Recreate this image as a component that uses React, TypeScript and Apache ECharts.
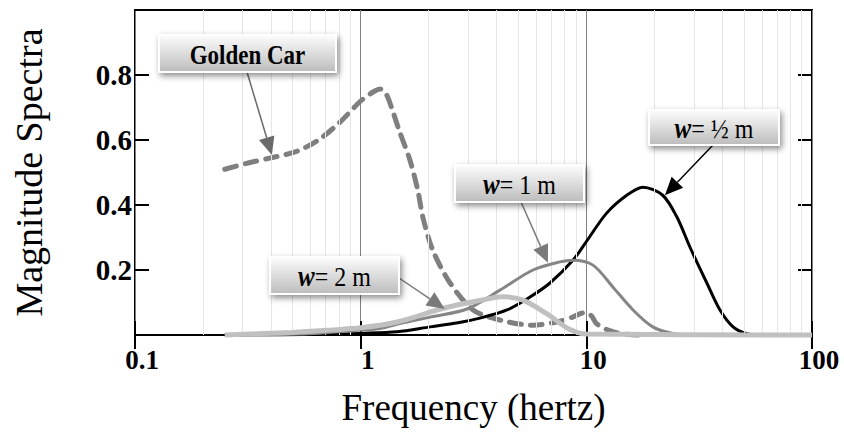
import React, { useEffect, useRef } from 'react';
import * as echarts from 'echarts';

// ---- data (frequency in hertz, magnitude spectra) ----
const goldenFreq = [0.25, 0.32, 0.4, 0.52, 0.65, 0.81, 1.0, 1.15, 1.22, 1.3, 1.37, 1.48, 1.65, 1.79, 1.89, 2.09, 2.49, 3.15, 4.14, 5.8, 7.4, 8.7, 9.7, 10.5, 11.1, 12.5, 14, 17];
const goldenVal = [0.51, 0.53, 0.545, 0.565, 0.6, 0.655, 0.72, 0.75, 0.757, 0.74, 0.7, 0.63, 0.54, 0.446, 0.36, 0.26, 0.16, 0.077, 0.046, 0.03, 0.04, 0.055, 0.068, 0.06, 0.035, 0.015, 0.005, 0];

const halfFreq = [0.25, 0.7, 1.0, 1.45, 2.03, 2.7, 3.38, 4.45, 5.63, 6.9, 8.72, 10.06, 12.3, 15.1, 17.8, 21.8, 25.2, 28.8, 34.2, 39.1, 44.7, 51, 60, 100];
const halfVal = [0, 0.002, 0.005, 0.01, 0.025, 0.038, 0.052, 0.077, 0.117, 0.16, 0.23, 0.29, 0.375, 0.43, 0.455, 0.43, 0.363, 0.27, 0.16, 0.077, 0.025, 0.005, 0, 0];

const oneFreq = [0.25, 0.54, 1.0, 1.22, 1.49, 2.03, 2.96, 4.14, 5.8, 7.64, 8.7, 10.7, 13.1, 16.1, 19.7, 24.2, 30, 100];
const oneVal = [0, 0.003, 0.015, 0.02, 0.035, 0.055, 0.08, 0.138, 0.2, 0.225, 0.23, 0.215, 0.148, 0.077, 0.025, 0.005, 0, 0];

const twoFreq = [0.25, 0.5, 0.73, 1.0, 1.45, 2.35, 3.48, 4.2, 5.2, 6.7, 8.3, 10, 100];
const twoVal = [0, 0.008, 0.015, 0.022, 0.04, 0.083, 0.108, 0.118, 0.108, 0.065, 0.02, 0.003, 0];

const minorGridFreq = [0.2, 0.3, 0.4, 0.5, 0.6, 0.7, 0.8, 0.9, 2, 3, 4, 5, 6, 7, 8, 9, 20, 30, 40, 50, 60, 70, 80, 90];

const annotationLabels = ['Golden Car', '{w|w}{r|= ½ m}', '{w|w}{r|= 1 m}', '{w|w}{r|= 2 m}'];
// arrow tips in data coordinates [frequency, magnitude]
const annotationTips = [[0.404, 0.554], [22.3, 0.43], [6.76, 0.222], [2.36, 0.08]];

const pairs = (f: number[], v: number[]) => f.map((x, i) => [x, v[i]]);

export default function App() {
  const ref = useRef<HTMLDivElement>(null);
  useEffect(() => {
    const chart = echarts.init(ref.current!, undefined, { renderer: 'svg' });
    const serif = '"Liberation Serif", "Times New Roman", serif';
    chart.setOption({
      animation: false,
      backgroundColor: '#ffffff',
      grid: { left: 135, right: 32, top: 10, bottom: 111, show: true, borderColor: '#000', borderWidth: 2, backgroundColor: 'transparent' },
      xAxis: [
        {
          type: 'log', logBase: 10, min: 0.1, max: 100, position: 'bottom',
          axisLine: { show: false },
          axisTick: { inside: true, length: 14, lineStyle: { color: '#000', width: 2 } },
          axisLabel: { color: '#000', fontSize: 27, fontWeight: 'bold', fontFamily: serif, margin: 11, padding: [0, 0, 0, 14] },
          splitLine: { show: true, lineStyle: { color: '#808080', width: 1 } },
          name: 'Frequency (hertz)', nameLocation: 'middle', nameGap: 54,
          nameTextStyle: { color: '#000', fontSize: 37, fontFamily: serif },
        },
        {
          type: 'log', logBase: 10, min: 0.1, max: 100, position: 'top',
          axisLine: { show: false },
          axisTick: { inside: true, length: 14, lineStyle: { color: '#000', width: 2 } },
          axisLabel: { show: false }, splitLine: { show: false },
        },
      ],
      yAxis: [
        {
          type: 'value', min: 0, max: 1, interval: 0.2, position: 'left',
          axisLine: { show: false },
          axisTick: { inside: true, length: 14, lineStyle: { color: '#000', width: 2 } },
          axisLabel: {
            color: '#000', fontSize: 29, fontWeight: 'bold', fontFamily: serif, margin: 3,
            formatter: (v: number) => (Math.abs(v) < 1e-9 || Math.abs(v - 1) < 1e-9 ? '' : v.toFixed(1)),
          },
          splitLine: { show: false },
          name: 'Magnitude Spectra', nameLocation: 'middle', nameGap: 87, nameRotate: 90,
          nameTextStyle: { color: '#000', fontSize: 38, fontFamily: serif },
        },
        {
          type: 'value', min: 0, max: 1, interval: 0.2, position: 'right',
          axisLine: { show: false },
          axisTick: { inside: true, length: 14, lineStyle: { color: '#000', width: 2 } },
          axisLabel: { show: false }, splitLine: { show: false },
        },
      ],
      series: [
        {
          type: 'line', data: [], z: 1, silent: true,
          markLine: {
            silent: true, symbol: 'none', label: { show: false },
            lineStyle: { color: '#e6e6e6', width: 1, type: 'solid' },
            data: minorGridFreq.map((f) => ({ xAxis: f })),
          },
        },
        {
          name: 'Golden Car', type: 'line', data: pairs(goldenFreq, goldenVal), showSymbol: false, smooth: 0.3, clip: false, z: 3,
          lineStyle: { color: '#7f7f7f', width: 5, type: [12, 9], cap: 'round' },
        },
        {
          name: 'w = 1/2 m', type: 'line', data: pairs(halfFreq, halfVal), showSymbol: false, smooth: 0.3, clip: false, z: 4,
          lineStyle: { color: '#000000', width: 3 },
        },
        {
          name: 'w = 1 m', type: 'line', data: pairs(oneFreq, oneVal), showSymbol: false, smooth: 0.3, clip: false, z: 5,
          lineStyle: { color: '#858585', width: 3 },
        },
        {
          name: 'w = 2 m', type: 'line', data: pairs(twoFreq, twoVal), showSymbol: false, smooth: 0.3, clip: false, z: 6,
          lineStyle: { color: '#c0c0c0', width: 5 },
        },
      ],
    });

    // annotation boxes (pixel layout) with arrows pointing at data coordinates
    const boxes = [
      { rect: [159, 35, 177, 37], from: [247, 72], color: '#6a6a6a' },
      { rect: [649, 110, 130, 35], from: [713, 145], color: '#000000' },
      { rect: [455, 165, 129, 37], from: [521, 202], color: '#7a7a7a' },
      { rect: [270, 257, 129, 37], from: [399, 278], color: '#7a7a7a' },
    ];
    const grad = () => new echarts.graphic.LinearGradient(0, 0, 0, 1, [
      { offset: 0, color: '#fdfdfd' },
      { offset: 1, color: '#bcbcbc' },
    ]);
    const elements: any[] = [];
    boxes.forEach((b, i) => {
      const tip = chart.convertToPixel({ xAxisIndex: 0, yAxisIndex: 0 }, annotationTips[i]) as number[];
      const [sx, sy] = b.from;
      const dx = tip[0] - sx, dy = tip[1] - sy;
      const len = Math.sqrt(dx * dx + dy * dy) || 1;
      const ux = dx / len, uy = dy / len;
      const headL = 18, headW = 8;
      const bx = tip[0] - ux * headL, by = tip[1] - uy * headL;
      const nx = -uy, ny = ux;
      elements.push({
        type: 'line', z: 100,
        shape: { x1: sx, y1: sy, x2: bx, y2: by },
        style: { stroke: b.color, lineWidth: 1.5 },
      });
      elements.push({
        type: 'polygon', z: 100,
        shape: { points: [[tip[0], tip[1]], [bx + nx * headW, by + ny * headW], [bx - nx * headW, by - ny * headW]] },
        style: { fill: b.color },
      });
      const [x, y, w, h] = b.rect;
      elements.push({
        type: 'rect', z: 101,
        shape: { x, y, width: w, height: h },
        style: {
          fill: grad(), stroke: '#ffffff', lineWidth: 2,
          shadowBlur: 6, shadowOffsetX: 2, shadowOffsetY: 3, shadowColor: 'rgba(0,0,0,0.45)',
        },
      });
      elements.push({
        type: 'text', z: 102,
        x: x + w / 2, y: y + h / 2 + 1, scaleY: 1.18,
        style: {
          text: annotationLabels[i],
          fill: '#000',
          font: i === 0 ? `bold 23px ${serif}` : `24px ${serif}`,
          align: 'center', verticalAlign: 'middle',
          textAlign: 'center', textVerticalAlign: 'middle',
          rich: {
            w: { fontStyle: 'italic', fontWeight: 'bold', fontSize: 25, fontFamily: serif, fill: '#000' },
            r: { fontSize: 24, fontFamily: serif, fill: '#000' },
          },
        },
      });
    });
    chart.setOption({ graphic: elements });

    return () => chart.dispose();
  }, []);
  return <div ref={ref} style={{ position: 'fixed', left: 0, top: 0, width: 844, height: 446 }} />;
}
